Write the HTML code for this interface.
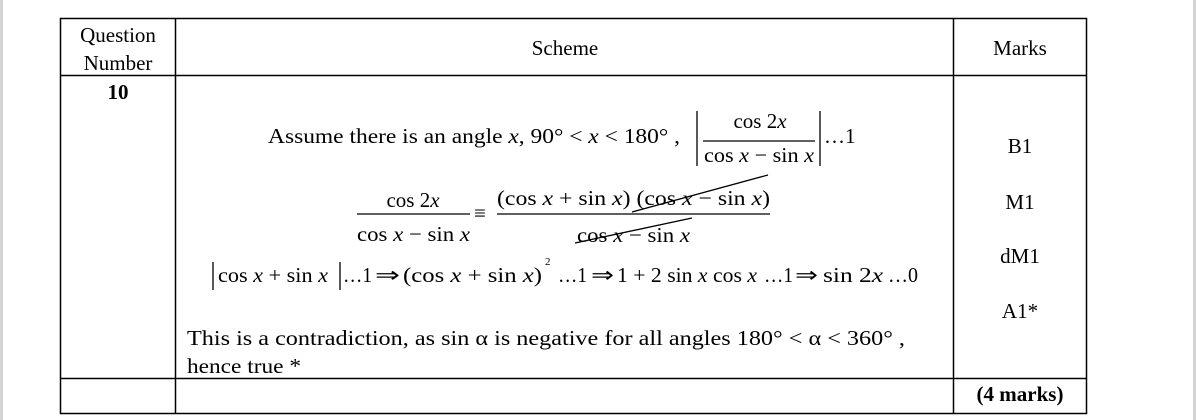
<!DOCTYPE html>
<html><head><meta charset="utf-8"><style>
html,body{margin:0;padding:0;background:#fff;width:1196px;height:420px;overflow:hidden}
svg{display:block}
text{font-family:"Liberation Serif","Times New Roman",serif;fill:#000}
</style></head><body>
<svg width="1196" height="420" viewBox="0 0 1196 420" xmlns="http://www.w3.org/2000/svg">
<rect x="0" y="0" width="3" height="420" fill="#d4d4d4"/>
<rect x="1193" y="0" width="3" height="420" fill="#d4d4d4"/>
<g stroke="#000" stroke-width="1.5" fill="none">
<rect x="60.5" y="18.5" width="1026" height="395"/>
<line x1="175.5" y1="18" x2="175.5" y2="414"/>
<line x1="953.5" y1="18" x2="953.5" y2="414"/>
<line x1="60" y1="75.5" x2="1086" y2="75.5"/>
<line x1="60" y1="378.5" x2="1086" y2="378.5"/>
</g>
<g font-size="21" text-anchor="middle">
<text x="118" y="42">Question</text>
<text x="118" y="70">Number</text>
<text x="565" y="55">Scheme</text>
<text x="1020" y="55">Marks</text>
<text x="118" y="99" font-weight="bold">10</text>
<text x="1020" y="153">B1</text>
<text x="1020" y="209">M1</text>
<text x="1020" y="263">dM1</text>
<text x="1020" y="318">A1*</text>
<text x="1020" y="401" font-weight="bold">(4 marks)</text>
</g>
<g font-size="21">
<text x="268" y="143" textLength="412" lengthAdjust="spacingAndGlyphs">Assume there is an angle <tspan font-style="italic">x</tspan>,  90° &lt; <tspan font-style="italic">x</tspan> &lt; 180° ,</text>
<text x="760" y="128" text-anchor="middle">cos 2<tspan font-style="italic">x</tspan></text>
<text x="704" y="162" textLength="110" lengthAdjust="spacingAndGlyphs">cos <tspan font-style="italic">x</tspan> − sin <tspan font-style="italic">x</tspan></text>
<text x="824" y="143">…1</text>
<text x="413" y="207" text-anchor="middle">cos 2<tspan font-style="italic">x</tspan></text>
<text x="357" y="241" textLength="113" lengthAdjust="spacingAndGlyphs">cos <tspan font-style="italic">x</tspan> − sin <tspan font-style="italic">x</tspan></text>
<text x="474" y="220">≡</text>
<text x="497" y="205" textLength="273" lengthAdjust="spacingAndGlyphs">(cos <tspan font-style="italic">x</tspan> + sin <tspan font-style="italic">x</tspan>) (cos <tspan font-style="italic">x</tspan> − sin <tspan font-style="italic">x</tspan>)</text>
<text x="577" y="242" textLength="113" lengthAdjust="spacingAndGlyphs">cos <tspan font-style="italic">x</tspan> − sin <tspan font-style="italic">x</tspan></text>

<text x="218" y="282" textLength="110" lengthAdjust="spacingAndGlyphs">cos <tspan font-style="italic">x</tspan> + sin <tspan font-style="italic">x</tspan></text>
<text x="343" y="282" textLength="29" lengthAdjust="spacingAndGlyphs">…1</text>
<text x="375" y="282" textLength="25" lengthAdjust="spacingAndGlyphs">⇒</text>
<text x="403" y="282" textLength="139" lengthAdjust="spacingAndGlyphs">(cos <tspan font-style="italic">x</tspan> + sin <tspan font-style="italic">x</tspan>)</text>
<text x="545" y="265" font-size="11">2</text>
<text x="558" y="282" textLength="29" lengthAdjust="spacingAndGlyphs">…1</text>
<text x="591" y="282" textLength="23" lengthAdjust="spacingAndGlyphs">⇒</text>
<text x="617" y="282" textLength="140" lengthAdjust="spacingAndGlyphs">1 + 2 sin <tspan font-style="italic">x</tspan> cos <tspan font-style="italic">x</tspan></text>
<text x="764" y="282" textLength="29" lengthAdjust="spacingAndGlyphs">…1</text>
<text x="795" y="282" textLength="23" lengthAdjust="spacingAndGlyphs">⇒</text>
<text x="823" y="282" textLength="60" lengthAdjust="spacingAndGlyphs">sin 2<tspan font-style="italic">x</tspan></text>
<text x="888" y="282" textLength="30" lengthAdjust="spacingAndGlyphs">…0</text>

<text x="187" y="345" textLength="718" lengthAdjust="spacingAndGlyphs">This is a contradiction, as sin α is negative for all angles 180° &lt; α &lt; 360°  ,</text>
<text x="187" y="373" textLength="114" lengthAdjust="spacingAndGlyphs">hence true *</text>
</g>
<g stroke="#000" stroke-width="1.3" fill="none">
<line x1="697" y1="111" x2="697" y2="166"/>
<line x1="820" y1="111" x2="820" y2="166"/>
<line x1="703" y1="141" x2="815" y2="141"/>
<line x1="357" y1="214" x2="470" y2="214"/>
<line x1="497" y1="214" x2="770" y2="214"/>
<line x1="632" y1="212" x2="768" y2="175"/>
<line x1="575" y1="243" x2="692" y2="218"/>
<line x1="213" y1="262" x2="213" y2="290"/>
<line x1="340" y1="262" x2="340" y2="290"/>
</g>
</svg>
</body></html>
